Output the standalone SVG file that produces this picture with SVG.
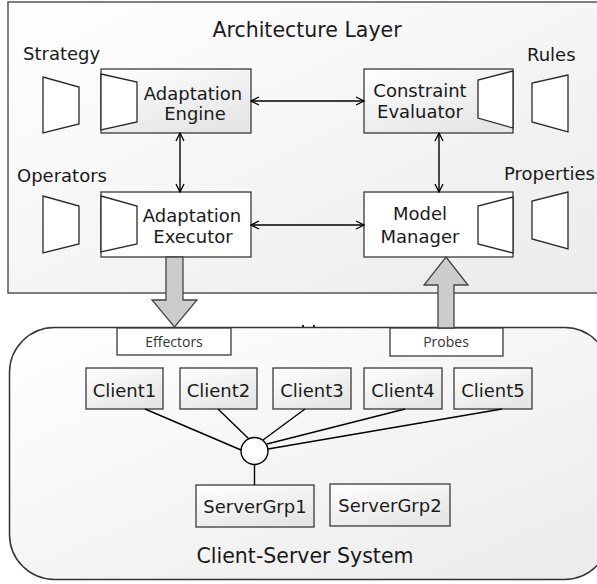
<svg xmlns="http://www.w3.org/2000/svg" width="597" height="584" viewBox="0 0 597 584">
<defs>
<linearGradient id="bg" x1="0" y1="0" x2="1" y2="1"><stop offset="0" stop-color="#ffffff"/><stop offset="1" stop-color="#ebebeb"/></linearGradient>
<linearGradient id="bx" x1="0" y1="0" x2="0.6" y2="1"><stop offset="0" stop-color="#ffffff"/><stop offset="1" stop-color="#e6e6e6"/></linearGradient>
<marker id="ah" markerWidth="10" markerHeight="10" refX="9" refY="5" orient="auto-start-reverse" markerUnits="userSpaceOnUse"><path d="M1,1 L9,5 L1,9" fill="none" stroke="#000" stroke-width="1.3"/></marker>
<style>
.t{font-family:"DejaVu Sans",Verdana,sans-serif;font-size:18px;fill:#1a1a1a}
.h{font-size:20.5px}
.s{font-family:"Open Sans","Liberation Sans",sans-serif;font-size:14px;fill:#333}
.box{fill:url(#bx);stroke:#3a3a3a;stroke-width:1.3}
.wb{fill:#fff;stroke:#3a3a3a;stroke-width:1.3}
.tz{fill:#fff;stroke:#2a2a2a;stroke-width:1.3}
.ln{stroke:#000;stroke-width:1.4;fill:none}
.blk{fill:#cccccc;stroke:#444;stroke-width:1.3}
</style>
</defs>

<g id="architecture-layer">
<rect x="8" y="2" width="600" height="291" fill="url(#bg)" stroke="#555" stroke-width="1.5"/>
<text class="t h" x="307" y="37" text-anchor="middle">Architecture Layer</text>
</g>

<g id="client-server-system">
<rect x="9.5" y="327.5" width="600" height="252" rx="45" ry="45" fill="url(#bg)" stroke="#333" stroke-width="1.5"/>
<text class="t h" x="305" y="563" text-anchor="middle">Client-Server System</text>
<rect x="302" y="325" width="2" height="2" fill="#222"/>
<rect x="313" y="325" width="2" height="2" fill="#222"/>
</g>

<g id="strategy">
<text class="t" x="23" y="60">Strategy</text>
<polygon class="tz" points="43,77 79,87 79,124 43,133"/>
</g>
<g id="rules">
<text class="t" x="527" y="61">Rules</text>
<polygon class="tz" points="568,75 532,83 532,122 568,132"/>
</g>
<g id="operators">
<text class="t" x="17" y="182">Operators</text>
<polygon class="tz" points="43,196 79,206 79,244 43,253"/>
</g>
<g id="properties">
<text class="t" x="504" y="180">Properties</text>
<polygon class="tz" points="568,192 532,201 532,239 568,249"/>
</g>

<g id="adaptation-engine">
<rect class="box" x="101" y="69" width="150" height="64"/>
<polygon class="tz" points="101,74 137,82 137,122 101,130"/>
<text class="t" x="193" y="100" text-anchor="middle">Adaptation</text>
<text class="t" x="195" y="120" text-anchor="middle">Engine</text>
</g>
<g id="constraint-evaluator">
<rect class="box" x="364" y="69" width="149" height="64"/>
<polygon class="tz" points="513,71 478,80 478,118 513,128"/>
<text class="t" x="420" y="97" text-anchor="middle">Constraint</text>
<text class="t" x="420" y="118" text-anchor="middle">Evaluator</text>
</g>
<g id="adaptation-executor">
<rect class="wb" x="101" y="192" width="150" height="65"/>
<polygon class="tz" points="101,196 137,206 137,244 101,252"/>
<text class="t" x="192" y="222" text-anchor="middle">Adaptation</text>
<text class="t" x="193" y="243" text-anchor="middle">Executor</text>
</g>
<g id="model-manager">
<rect class="wb" x="364" y="192" width="149" height="65"/>
<polygon class="tz" points="513,197 478,206 478,244 513,253"/>
<text class="t" x="420" y="220" text-anchor="middle">Model</text>
<text class="t" x="420" y="243" text-anchor="middle">Manager</text>
</g>

<g id="effectors">
<rect class="wb" x="117" y="328" width="114" height="27"/>
<text class="s" x="174" y="347" text-anchor="middle">Effectors</text>
</g>
<g id="probes">
<rect class="wb" x="390" y="328" width="113" height="28"/>
<text class="s" x="446" y="347" text-anchor="middle">Probes</text>
</g>

<g id="client1"><rect class="box" x="86" y="368" width="77" height="41"/><text class="t" x="124.5" y="397" text-anchor="middle">Client1</text></g>
<g id="client2"><rect class="box" x="180" y="368" width="77" height="41"/><text class="t" x="218.5" y="397" text-anchor="middle">Client2</text></g>
<g id="client3"><rect class="box" x="273" y="368" width="78" height="41"/><text class="t" x="312" y="397" text-anchor="middle">Client3</text></g>
<g id="client4"><rect class="box" x="364" y="368" width="78" height="41"/><text class="t" x="403" y="397" text-anchor="middle">Client4</text></g>
<g id="client5"><rect class="box" x="454" y="368" width="78" height="41"/><text class="t" x="493" y="397" text-anchor="middle">Client5</text></g>
<g id="servergrp1"><rect class="box" x="196" y="485" width="118" height="42"/><text class="t" x="255" y="513" text-anchor="middle">ServerGrp1</text></g>
<g id="servergrp2"><rect class="box" x="330" y="484" width="120" height="42"/><text class="t" x="390" y="512" text-anchor="middle">ServerGrp2</text></g>

<g id="connectors">
<line class="ln" x1="251" y1="101" x2="364" y2="101" marker-start="url(#ah)" marker-end="url(#ah)"/>
<line class="ln" x1="180" y1="133" x2="180" y2="192" marker-start="url(#ah)" marker-end="url(#ah)"/>
<line class="ln" x1="439" y1="133" x2="439" y2="192" marker-start="url(#ah)" marker-end="url(#ah)"/>
<line class="ln" x1="251" y1="225" x2="364" y2="225" marker-start="url(#ah)" marker-end="url(#ah)"/>
<polygon class="blk" points="166,257 183,257 183,300 197,300 174.5,327 152,300 166,300"/>
<polygon class="blk" points="446,257 468,285 454,285 454,328 438,328 438,285 424,285"/>
<line class="ln" x1="145" y1="409" x2="241" y2="450"/>
<line class="ln" x1="218" y1="409" x2="249" y2="439"/>
<line class="ln" x1="305" y1="409" x2="263" y2="440"/>
<line class="ln" x1="405" y1="409" x2="267" y2="444"/>
<line class="ln" x1="502" y1="409" x2="268" y2="449"/>
<line class="ln" x1="254.5" y1="464" x2="254.5" y2="485"/>
<circle cx="254.5" cy="451" r="13.5" fill="#fff" stroke="#000" stroke-width="1.4"/>
</g>
</svg>
